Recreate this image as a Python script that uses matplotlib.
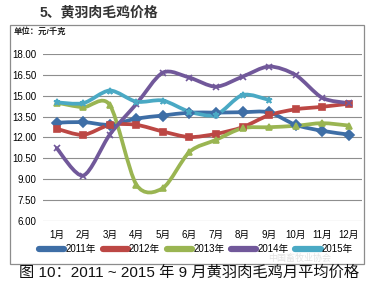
import numpy as np
import matplotlib
matplotlib.use('Agg')
import matplotlib.pyplot as plt
from matplotlib.path import Path
from matplotlib.patches import PathPatch, Rectangle
from matplotlib.lines import Line2D

plt.rcParams['font.family'] = ['Liberation Sans', 'Noto Sans CJK SC', 'DejaVu Sans']

# data (yuan / kg)
months = ['1月', '2月', '3月', '4月', '5月', '6月', '7月', '8月', '9月', '10月', '11月', '12月']
years = ['2011年', '2012年', '2013年', '2014年', '2015年']
p2011 = [13.05, 13.1, 12.9, 13.35, 13.57, 13.78, 13.78, 13.81, 13.8, 12.9, 12.47, 12.2]
p2012 = [12.62, 12.18, 12.9, 12.9, 12.42, 12.02, 12.25, 12.73, 13.6, 14.02, 14.2, 14.42]
p2013 = [14.5, 14.17, 14.33, 8.6, 8.35, 10.95, 11.82, 12.66, 12.73, 12.83, 13.02, 12.85]
p2014 = [11.22, 9.25, 12.2, 14.4, 16.66, 16.3, 15.65, 16.37, 17.1, 16.49, 14.85, 14.46]
p2015 = [14.52, 14.46, 15.37, 14.57, 14.65, 13.85, 13.62, 15.05, 14.69]
yticks = [6.0, 7.5, 9.0, 10.5, 12.0, 13.5, 15.0, 16.5, 18.0]

series = [p2011, p2012, p2013, p2014, p2015]
colors = ['#3E6EA6', '#BC4744', '#9AB552', '#71589A', '#4AA9C4']
markers = ['D', 's', '^', 'x', '*']


def smoothPath(x, y, k=7.0):
    """
    build a smoothed bezier path through the points (excel-like smoothing)
    """
    pts = np.column_stack([x, y]).astype(float)
    verts = [pts[0]]
    codes = [Path.MOVETO]
    n = len(pts)
    for i in range(n - 1):
        p0 = pts[i - 1] if i > 0 else pts[i]
        p1 = pts[i]
        p2 = pts[i + 1]
        p3 = pts[i + 2] if i + 2 < n else pts[i + 1]
        c1 = p1 + (p2 - p0) / k
        c2 = p2 - (p3 - p1) / k
        verts += [c1, c2, p2]
        codes += [Path.CURVE4] * 3
    return Path(verts, codes)


fig = plt.figure(figsize=(3.81, 2.84), dpi=100)
fig.patch.set_facecolor('white')

# outer chart frame
fig.patches.append(Rectangle((10 / 381, 1 - 264 / 284), 354 / 381, 239 / 284,
                             transform=fig.transFigure, fill=False,
                             edgecolor='#8C8C8C', linewidth=0.9))

ax = fig.add_axes([43.4 / 381, 1 - 220.7 / 284, (362 - 43.4) / 381, (220.7 - 54) / 284])
ax.set_xlim(-0.5, 11.5)
ax.set_ylim(6, 18)
ax.set_yticks(yticks)
ax.set_yticklabels(['%.2f' % v for v in yticks], fontsize=7)
ax.set_xticks(range(12))
ax.set_xticklabels(months, fontsize=7)
ax.tick_params(length=0, pad=5)
ax.tick_params(axis='x', pad=7)
for s in ax.spines.values():
    s.set_visible(False)
ax.grid(axis='y', color='#8E8E8E', linewidth=0.8)
ax.set_axisbelow(True)

for vals, c, m in zip(series, colors, markers):
    x = np.arange(len(vals))
    ax.add_patch(PathPatch(smoothPath(x, vals), fill=False, edgecolor=c,
                           linewidth=2.7, capstyle='round', joinstyle='round'))
    ax.plot(x, vals, linestyle='none', marker=m, color=c, markersize=5,
            markeredgewidth=1.2)

handles = [Line2D([0], [0], color=c, linewidth=4.5, solid_capstyle='round') for c in colors]
fig.legend(handles, years, loc='center', bbox_to_anchor=(196 / 381, 1 - 249 / 284),
           ncol=5, frameon=False, fontsize=7, handlelength=2.6, handletextpad=0.1,
           columnspacing=0.7)

fig.text(40 / 381, 1 - 12 / 284, '5、黄羽肉毛鸡价格', fontsize=10, fontweight='bold',
         color='#333333', va='center')
fig.text(14 / 381, 1 - 32 / 284, '单位：元/千克', fontsize=6, fontweight='bold',
         color='#222222', va='center')
fig.text(189 / 381, 1 - 273 / 284, '图 10：2011 ~ 2015 年 9 月黄羽肉毛鸡月平均价格',
         fontsize=11, fontweight='medium', color='#111111', ha='center', va='center')
fig.text(300 / 381, 1 - 258.5 / 284, '中国畜牧业协会', fontsize=6.5, color='#D0D0D0',
         alpha=0.6, ha='center', va='center')

fig.savefig('out.png', dpi=100)
